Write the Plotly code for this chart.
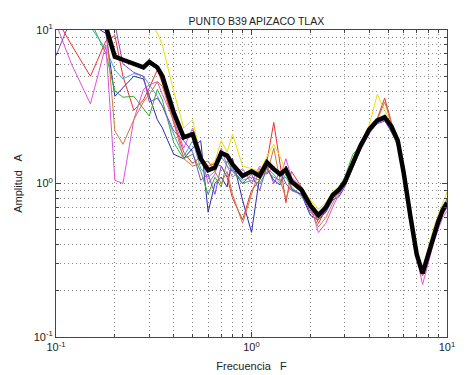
import plotly.graph_objects as go

# frequency grid shared by every record (Hz)
freq = [0.1, 0.12, 0.15, 0.18, 0.2, 0.22, 0.25, 0.28, 0.3, 0.33, 0.35, 0.4, 0.45, 0.5,
        0.55, 0.6, 0.65, 0.7, 0.75, 0.8, 0.9, 1.0, 1.1, 1.2, 1.3, 1.4, 1.5, 1.6, 1.8,
        2.0, 2.2, 2.4, 2.6, 2.8, 3.0, 3.3, 3.6, 4.0, 4.4, 4.8, 5.2, 5.6, 6.0, 6.5,
        7.0, 7.5, 8.0, 8.5, 9.0, 9.5, 10.0]

# individual H/V records
rec_blue = [14, 12, 11, 9.5, 3.7, 4.2, 5.0, 4.8, 3.7, 2.6, 2.3, 1.55, 1.45, 1.7,
            1.9, 0.65, 1.0, 1.1, 0.95, 1.45, 0.78, 0.48, 1.1, 1.25, 1.05, 0.98, 1.3, 0.92, 0.85,
            0.62, 0.58, 0.65, 0.78, 0.82, 0.95, 1.3, 1.7, 2.2, 2.5, 2.6, 2.15, 1.85, 1.15, 0.6,
            0.34, 0.27, 0.36, 0.44, 0.55, 0.64, 0.72]
rec_green = [16, 13, 11.5, 7.0, 4.0, 3.65, 3.7, 3.05, 2.75, 4.1, 3.5, 1.85, 1.45, 1.55,
             1.2, 0.85, 1.1, 0.95, 1.4, 1.2, 1.0, 1.05, 1.0, 1.2, 1.1, 1.05, 1.1, 0.95, 0.82,
             0.7, 0.63, 0.72, 0.85, 0.95, 1.1, 1.55, 1.75, 2.2, 2.6, 2.75, 2.2, 1.75, 1.15, 0.6,
             0.35, 0.28, 0.36, 0.48, 0.6, 0.7, 0.78]
rec_red = [12, 8.0, 5.0, 8.5, 9.2, 5.0, 3.0, 3.5, 4.2, 5.5, 4.5, 2.5, 1.6, 1.35,
           1.5, 1.3, 1.35, 1.3, 1.1, 0.8, 0.58, 0.9, 1.05, 1.4, 2.5, 1.3, 0.75, 1.2, 0.95,
           0.75, 0.55, 0.68, 0.8, 0.9, 1.0, 1.35, 1.8, 2.35, 2.65, 3.6, 2.5, 1.95, 1.25, 0.62,
           0.33, 0.25, 0.32, 0.42, 0.52, 0.63, 0.7]
rec_cyan = [18, 15, 10.5, 7.5, 5.5, 4.8, 5.2, 5.0, 4.4, 3.7, 3.2, 2.1, 1.5, 1.9,
            1.25, 1.1, 1.2, 1.5, 1.3, 1.2, 1.05, 1.1, 1.05, 1.25, 1.15, 1.0, 1.15, 1.0, 0.88,
            0.7, 0.6, 0.68, 0.82, 0.88, 1.0, 1.4, 1.8, 2.3, 2.6, 2.8, 2.3, 1.85, 1.2, 0.62,
            0.35, 0.26, 0.35, 0.46, 0.57, 0.68, 0.76]
rec_magenta = [11, 6.0, 3.3, 8.0, 1.05, 1.0, 2.6, 4.1, 4.4, 4.6, 3.8, 2.6, 1.7, 2.3,
               1.6, 1.0, 1.15, 1.7, 1.3, 1.1, 1.25, 1.0, 1.3, 1.15, 1.3, 1.1, 1.45, 1.1, 0.95,
               0.72, 0.48, 0.55, 0.7, 0.85, 0.95, 1.25, 1.65, 2.1, 2.5, 2.65, 2.3, 1.9, 1.2, 0.6,
               0.33, 0.22, 0.3, 0.4, 0.5, 0.6, 0.66]
rec_yellow = [30, 28, 25, 22, 20, 18, 16, 13, 11.5, 9.5, 8.0, 4.0, 2.3, 2.6,
              1.5, 1.3, 1.4, 1.9, 1.6, 2.1, 1.3, 1.25, 1.2, 1.5, 1.8, 1.5, 1.2, 1.05, 0.95,
              0.78, 0.68, 0.75, 0.88, 0.95, 1.05, 1.4, 1.8, 2.4, 3.8, 3.0, 2.5, 2.0, 1.25, 0.64,
              0.36, 0.28, 0.38, 0.5, 0.62, 0.75, 0.88]
rec_purple = [6.8, 12, 11, 12, 11, 6.0, 5.3, 5.0, 3.4, 3.6, 3.2, 2.2, 1.9, 1.6,
              1.05, 1.15, 0.85, 1.3, 1.1, 1.25, 1.0, 1.15, 0.9, 1.3, 1.0, 1.2, 1.0, 0.9, 0.85,
              0.65, 0.6, 0.66, 0.8, 0.86, 0.98, 1.3, 1.65, 2.15, 2.45, 2.55, 2.2, 1.85, 1.15, 0.6,
              0.34, 0.26, 0.34, 0.43, 0.53, 0.63, 0.7]
rec_brown = [25, 20, 15, 11, 2.2, 1.8, 2.6, 3.4, 3.8, 4.6, 4.3, 2.5, 1.45, 1.3,
             1.35, 1.4, 1.2, 1.0, 1.2, 0.85, 0.55, 0.85, 1.25, 1.15, 1.7, 1.05, 0.8, 1.0, 0.9,
             0.68, 0.52, 0.6, 0.75, 0.9, 1.05, 1.45, 1.85, 2.3, 2.6, 3.4, 2.45, 1.95, 1.2, 0.62,
             0.35, 0.25, 0.33, 0.44, 0.56, 0.68, 0.8]

# average curve (thick black)
mean_amp = [22, 18, 14, 10.5, 6.7, 6.4, 6.0, 5.7, 6.2, 5.7, 5.0, 2.9, 2.0, 2.1,
            1.45, 1.22, 1.27, 1.58, 1.52, 1.33, 1.12, 1.2, 1.12, 1.37, 1.24, 1.15, 1.23, 1.03, 0.91,
            0.72, 0.62, 0.70, 0.84, 0.91, 1.02, 1.37, 1.75, 2.25, 2.58, 2.7, 2.35, 1.9, 1.18, 0.61,
            0.345, 0.26, 0.34, 0.45, 0.56, 0.67, 0.75]

records = [
    (rec_blue, "#2a2ab0"),
    (rec_green, "#30b030"),
    (rec_red, "#f03030"),
    (rec_cyan, "#40a8d8"),
    (rec_magenta, "#e050e0"),
    (rec_yellow, "#e8e000"),
    (rec_purple, "#8848c8"),
    (rec_brown, "#d07838"),
]

fig = go.Figure()
for amp, col in records:
    fig.add_trace(go.Scatter(x=freq, y=amp, mode="lines",
                             line=dict(color=col, width=1), showlegend=False))
fig.add_trace(go.Scatter(x=freq, y=mean_amp, mode="lines",
                         line=dict(color="black", width=4.5), showlegend=False))

minor_x = [0.2, 0.3, 0.4, 0.5, 0.6, 0.7, 0.8, 0.9, 2, 3, 4, 5, 6, 7, 8, 9]
minor_y = [0.2, 0.3, 0.4, 0.5, 0.6, 0.7, 0.8, 0.9, 2, 3, 4, 5, 6, 7, 8, 9]

font = dict(family="Liberation Sans, Arial", size=11, color="#222")

axis_common = dict(
    type="log", range=[-1, 1], automargin=False,
    showline=True, linecolor="#444", linewidth=1, mirror="ticks",
    ticks="inside", ticklen=5, tickcolor="#444",
    showgrid=True, gridcolor="#777", griddash="1px,3px", gridwidth=1,
    zeroline=False,
    tickvals=[0.1, 1, 10],
    ticktext=["10<sup>-1</sup>", "10<sup>0</sup>", "10<sup>1</sup>"],
    tickfont=font,
)
minor_common = dict(showgrid=True, gridcolor="#888", griddash="1px,3px",
                    ticks="inside", ticklen=3, tickcolor="#444")

fig.update_xaxes(**axis_common,
                 minor=dict(tickvals=minor_x, **minor_common),
                 title=dict(text="Frecuencia   F", standoff=10, font=font))
fig.update_yaxes(**axis_common,
                 minor=dict(tickvals=minor_y, **minor_common),
                 title=dict(text="Amplitud   A", standoff=8, font=font))

# page body adds 8px around the figure
fig.update_layout(
    width=460, height=367,
    margin=dict(l=48, r=21, t=22, b=38),
    paper_bgcolor="white", plot_bgcolor="white",
    title=dict(text="PUNTO B39 APIZACO TLAX", x=0.54, xanchor="center", y=0.975,
               font=dict(family="Liberation Sans, Arial", size=10.5, color="#222")),
)

fig.write_html("out.html")
